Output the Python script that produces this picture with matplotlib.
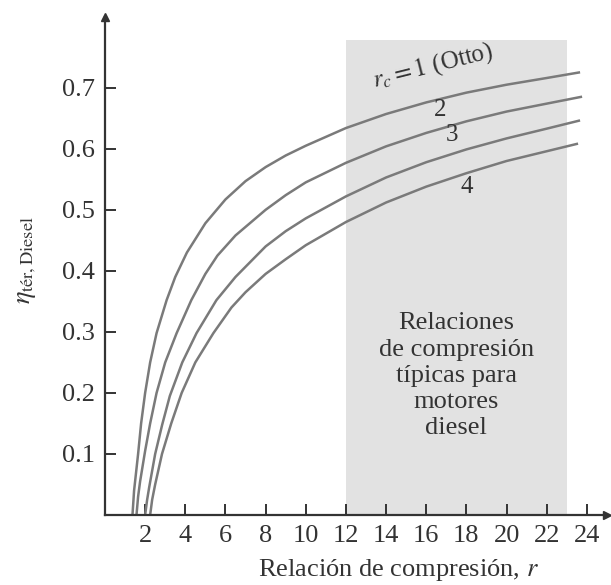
import matplotlib
matplotlib.use("Agg")
import matplotlib.pyplot as plt

plt.rcParams['font.family'] = ['Liberation Serif', 'DejaVu Serif']
plt.rcParams['mathtext.fontset'] = 'stix'

# Curvas (r, eficiencia)
r_otto = [1.37, 1.45, 1.55, 1.65, 1.8, 2.0, 2.25, 2.57, 3.07, 3.5, 4.08, 5, 6, 7, 8, 9, 10,
          12, 14, 16, 18, 20, 22, 23.6]
eta_otto = [0, 0.04, 0.07, 0.1, 0.15, 0.2, 0.25, 0.298, 0.352, 0.39, 0.43, 0.478, 0.517,
            0.547, 0.57, 0.589, 0.605, 0.634, 0.657, 0.676, 0.692, 0.705, 0.716, 0.725]

r_rc2 = [1.57, 1.65, 1.75, 2.0, 2.25, 2.57, 3.0, 3.57, 4.3, 5, 5.6, 6.5, 8, 9, 10,
         12, 14, 16, 18, 20, 22, 23.7]
eta_rc2 = [0, 0.03, 0.055, 0.105, 0.15, 0.2, 0.25, 0.298, 0.352, 0.395, 0.425, 0.458, 0.5,
           0.524, 0.545, 0.577, 0.604, 0.626, 0.645, 0.661, 0.674, 0.685]

r_rc3 = [2.0, 2.1, 2.2, 2.5, 2.85, 3.23, 3.85, 4.56, 5.55, 6.5, 8, 9, 10,
         12, 14, 16, 18, 20, 22, 23.6]
eta_rc3 = [0, 0.025, 0.045, 0.1, 0.148, 0.195, 0.25, 0.298, 0.352, 0.39, 0.44, 0.465, 0.486,
           0.522, 0.553, 0.578, 0.599, 0.617, 0.633, 0.646]

r_rc4 = [2.25, 2.35, 2.5, 2.84, 3.3, 3.82, 4.5, 5.4, 6.3, 7, 8, 9, 10,
         12, 14, 16, 18, 20, 22, 23.5]
eta_rc4 = [0, 0.025, 0.05, 0.1, 0.15, 0.2, 0.25, 0.298, 0.34, 0.365, 0.395, 0.419, 0.442,
           0.48, 0.512, 0.538, 0.56, 0.58, 0.596, 0.608]

diesel_range = [12, 23]
diesel_top = 0.778

x_ticks = [2, 4, 6, 8, 10, 12, 14, 16, 18, 20, 22, 24]
y_ticks = [0.1, 0.2, 0.3, 0.4, 0.5, 0.6, 0.7]

curve_color = '#7a7a7a'
text_color = '#333333'

fig = plt.figure(figsize=(6.11, 5.85), dpi=100)
ax = fig.add_axes([0.1718, 0.1197, 0.8216, 0.8513])

ax.fill_between(diesel_range, 0, diesel_top, color='#e2e2e2', lw=0, zorder=0)

for r, eta in [(r_otto, eta_otto), (r_rc2, eta_rc2), (r_rc3, eta_rc3), (r_rc4, eta_rc4)]:
    ax.plot(r, eta, color=curve_color, lw=1.8, zorder=2, solid_joinstyle='round')

ax.set_xlim(0, 25)
ax.set_ylim(0, 0.816)

for s in ['top', 'right']:
    ax.spines[s].set_visible(False)
for s in ['left', 'bottom']:
    ax.spines[s].set_color(text_color)
    ax.spines[s].set_linewidth(1.6)

# flechas de los ejes
ax.plot(1, 0, '>', color=text_color, ms=6, transform=ax.transAxes, clip_on=False)
ax.plot(0, 1, '^', color=text_color, ms=6, transform=ax.transAxes, clip_on=False)

ax.set_xticks(x_ticks)
ax.set_yticks(y_ticks)
ax.set_yticklabels([f"{v:.1f}" for v in y_ticks])
ax.tick_params(direction='in', length=8, width=1.4, color=text_color,
               labelsize=19, labelcolor=text_color, pad=7)

ax.text(0.585, -0.085, 'Relación de compresión, $r$', transform=ax.transAxes,
        ha='center', va='top', fontsize=19, color=text_color)
fig.text(0.045, 0.555, r'$\eta_{\mathrm{tér,Diesel}}$', rotation=90,
         ha='center', va='center', fontsize=19, color=text_color)

ax.text(16.3, 0.735, '$r_c = 1$ (Otto)', rotation=14, ha='center', va='center',
        fontsize=18, color=text_color)
ax.text(16.7, 0.664, '2', ha='center', va='center', fontsize=18, color=text_color)
ax.text(17.3, 0.622, '3', ha='center', va='center', fontsize=18, color=text_color)
ax.text(18.0, 0.538, '4', ha='center', va='center', fontsize=18, color=text_color)

ax.text(17.5, 0.228, 'Relaciones\nde compresión\ntípicas para\nmotores\ndiesel',
        ha='center', va='center', fontsize=19, color=text_color, linespacing=1.25)

fig.savefig('out.png', dpi=100)
